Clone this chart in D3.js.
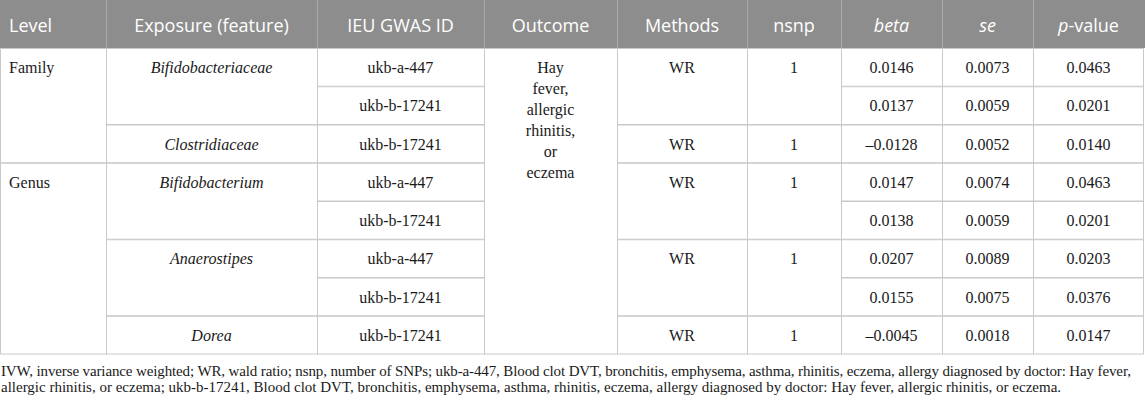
<!DOCTYPE html>
<html lang="en">
<head>
    <meta charset="utf-8">
    <title>D3: MR results table</title>
    <script type="text/javascript" src="https://d3js.org/d3.v7.min.js"></script>
    <style>
        body { margin: 0; background: #fff; }
    </style>
</head>
<body>
    <div id="table"></div>

    <script type="text/javascript">

        // Column headers
        var headers = ["Level", "Exposure (feature)", "IEU GWAS ID", "Outcome", "Methods", "nsnp", "beta", "se", "p-value"];

        // Merged groups (name + number of rows covered)
        var levelNames = ["Family", "Genus"];
        var levelSpans = [3, 5];
        var exposures = ["Bifidobacteriaceae", "Clostridiaceae", "Bifidobacterium", "Anaerostipes", "Dorea"];
        var exposureSpans = [2, 1, 2, 2, 1];
        var methods = ["WR", "WR", "WR", "WR", "WR"];
        var nsnp = [1, 1, 1, 1, 1];
        var outcomeLines = ["Hay", "fever,", "allergic", "rhinitis,", "or", "eczema"];

        // One value per row
        var gwasIds = ["ukb-a-447", "ukb-b-17241", "ukb-b-17241", "ukb-a-447", "ukb-b-17241", "ukb-a-447", "ukb-b-17241", "ukb-b-17241"];
        var betas = [0.0146, 0.0137, -0.0128, 0.0147, 0.0138, 0.0207, 0.0155, -0.0045];
        var ses = [0.0073, 0.0059, 0.0052, 0.0074, 0.0059, 0.0089, 0.0075, 0.0018];
        var pvalues = [0.0463, 0.0201, 0.0140, 0.0463, 0.0201, 0.0203, 0.0376, 0.0147];

        var footnoteLines = [
            "IVW, inverse variance weighted; WR, wald ratio; nsnp, number of SNPs; ukb-a-447, Blood clot DVT, bronchitis, emphysema, asthma, rhinitis, eczema, allergy diagnosed by doctor: Hay fever,",
            "allergic rhinitis, or eczema; ukb-b-17241, Blood clot DVT, bronchitis, emphysema, asthma, rhinitis, eczema, allergy diagnosed by doctor: Hay fever, allergic rhinitis, or eczema."
        ];
        var footnoteEnds = [1131, 1061];

        // Layout
        var width = 1145, height = 401;
        var headerH = 48, tableBottom = 354;
        var colWidths = [106, 211, 167, 133, 130, 94, 101, 91, 111];
        var colLeft = [0];
        colWidths.forEach(function(w, i) { colLeft.push(colLeft[i] + w); });

        var serif = "'Liberation Serif', 'Times New Roman', serif";
        var sans = "'Open Sans', 'Noto Sans', sans-serif";
        var gridColor = "#c9c9c9";
        var fmt = function(v) { return d3.format(".4f")(v).replace("−", "–"); };

        var nRows = gwasIds.length;
        var y = d3.scaleBand()
            .domain(d3.range(nRows))
            .range([headerH, tableBottom]);

        var svg = d3.select("#table").append("svg")
            .attr("width", width)
            .attr("height", height)
            .style("display", "block");

        // Build cell list
        var cells = [];
        function addGroups(col, names, spans, opts) {
            var r = 0;
            names.forEach(function(n, i) {
                cells.push(Object.assign({ col: col, row: r, span: spans[i], text: n }, opts));
                r += spans[i];
            });
        }
        addGroups(0, levelNames, levelSpans, { align: "start" });
        addGroups(1, exposures, exposureSpans, { italic: true });
        addGroups(2, gwasIds, gwasIds.map(function() { return 1; }), {});
        cells.push({ col: 3, row: 0, span: nRows, lines: outcomeLines });
        addGroups(4, methods, exposureSpans, {});
        addGroups(5, nsnp.map(String), exposureSpans, {});
        addGroups(6, betas.map(fmt), betas.map(function() { return 1; }), {});
        addGroups(7, ses.map(fmt), ses.map(function() { return 1; }), {});
        addGroups(8, pvalues.map(fmt), pvalues.map(function() { return 1; }), {});

        // Header band
        svg.append("rect")
            .attr("x", 0).attr("y", 0)
            .attr("width", width).attr("height", headerH)
            .attr("fill", "#8d8d8d");

        svg.selectAll(".hsep")
            .data(colLeft.slice(1, -1))
            .enter().append("line")
            .attr("x1", function(d) { return d + 0.5; })
            .attr("x2", function(d) { return d + 0.5; })
            .attr("y1", 0).attr("y2", headerH)
            .attr("stroke", "#a9a9a9");

        var head = svg.selectAll(".head")
            .data(headers)
            .enter().append("text")
            .attr("x", function(d, i) { return i === 0 ? 9 : colLeft[i] + colWidths[i] / 2; })
            .attr("y", 32)
            .attr("text-anchor", function(d, i) { return i === 0 ? "start" : "middle"; })
            .style("font-family", sans)
            .style("font-size", "18px")
            .style("fill", "#fff");

        head.each(function(d) {
            var t = d3.select(this);
            if (d === "beta" || d === "se") {
                t.style("font-style", "italic").text(d);
            } else if (d === "p-value") {
                t.append("tspan").style("font-style", "italic").text("p");
                t.append("tspan").text("-value");
            } else {
                t.text(d);
            }
        });

        // Cell boxes
        svg.selectAll(".cell")
            .data(cells)
            .enter().append("rect")
            .attr("x", function(d) { return colLeft[d.col] + 0.5; })
            .attr("y", function(d) { return y(d.row) + 0.5; })
            .attr("width", function(d) { return colWidths[d.col] - (d.col === 8 ? 1 : 0); })
            .attr("height", function(d) { return d.span * y.bandwidth() - 0.5; })
            .attr("fill", "#fff")
            .attr("stroke", gridColor)
            .attr("stroke-width", 1);

        // Cell text
        svg.selectAll(".ctext")
            .data(cells)
            .enter().append("text")
            .attr("x", function(d) { return d.align === "start" ? colLeft[d.col] + 9 : colLeft[d.col] + colWidths[d.col] / 2; })
            .attr("y", function(d) { return y(d.row) + 25; })
            .attr("text-anchor", function(d) { return d.align === "start" ? "start" : "middle"; })
            .style("font-family", serif)
            .style("font-size", "16px")
            .style("font-style", function(d) { return d.italic ? "italic" : "normal"; })
            .style("fill", "#1a1a1a")
            .each(function(d) {
                var t = d3.select(this);
                if (d.lines) {
                    t.selectAll("tspan")
                        .data(d.lines)
                        .enter().append("tspan")
                        .attr("x", colLeft[d.col] + colWidths[d.col] / 2)
                        .attr("dy", function(l, i) { return i === 0 ? 0 : 21; })
                        .text(function(l) { return l; });
                } else {
                    t.text(d.text);
                }
            });

        // Footnote: 15px, each line's letter spacing nudged so it ends where the original does
        svg.selectAll(".foot")
            .data(footnoteLines)
            .enter().append("text")
            .attr("x", 1)
            .attr("y", function(d, i) { return 376 + i * 15.5; })
            .style("font-family", serif)
            .style("font-size", "15px")
            .style("fill", "#1a1a1a")
            .text(function(d) { return d; })
            .each(function(d, i) {
                var w = this.getComputedTextLength();
                var ls = (footnoteEnds[i] - 1 - w) / (d.length - 1);
                d3.select(this).style("letter-spacing", ls.toFixed(3) + "px");
            });

    </script>
</body>
</html>
